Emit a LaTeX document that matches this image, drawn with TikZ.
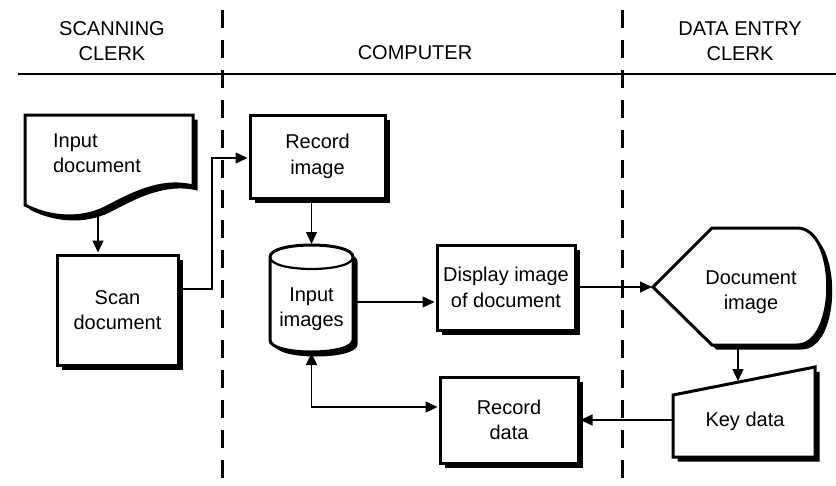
\documentclass[tikz,border=0pt]{standalone}
\usepackage{fontspec}
\setmainfont{Liberation Sans}
\usetikzlibrary{arrows.meta,calc}
\begin{document}
\begin{tikzpicture}[x=1pt,y=-1pt,
  txt/.style={font=\fontsize{20}{25.5}\selectfont, align=center, inner sep=0pt},
  shp/.style={draw=black, fill=white, line width=3pt, line join=miter,
    preaction={fill=black, transform canvas={xshift=4.5pt,yshift=-4.5pt}}},
  box/.style={shp, rectangle, inner sep=0pt, font=\fontsize{20}{25.5}\selectfont, align=center},
  arr/.style={line width=1.4pt, -{Triangle[length=12pt,width=11pt]}, shorten >=1pt},
  darr/.style={line width=1.4pt, {Triangle[length=12pt,width=11pt]}-{Triangle[length=12pt,width=11pt]}, shorten >=1pt, shorten <=1pt},
  lane/.style={line width=3pt, dash pattern=on 18pt off 12pt}
]
\useasboundingbox (0,0) rectangle (836,485);

% swimlane separators
\draw[line width=2.5pt] (18,74) -- (836,74);
\draw[lane] (222,10) -- (222,485);
\draw[lane] (622,10) -- (622,485);

% headers
\node[txt] (h1) at (112,41) {SCANNING\\CLERK};
\node[txt] (h2) at (415,53) {COMPUTER};
\node[txt] (h3) at (740,41) {DATA ENTRY\\CLERK};

% Input document (document shape)
\path[shp] (25,115) -- (193,115) -- (193,186)
  .. controls (160,178) and (130,195) .. (105,208)
  .. controls (80,220) and (50,218) .. (25,205) -- cycle;
\node[txt, align=left] (indoc) at (97,153) {Input\\document};
\coordinate (indocB) at (98,211);

% Scan document
\node[box, minimum width=121pt, minimum height=110pt] (scan) at (117.5,310) {Scan\\document};

% Record image
\node[box, minimum width=135pt, minimum height=83pt] (recimg) at (317.5,156.5) {Record\\image};

% Input images (cylinder)
\path[shp] (270,257) -- (270,340) .. controls (270,356) and (353,356) .. (353,340) -- (353,257)
  .. controls (353,241) and (270,241) .. (270,257) -- cycle;
\draw[line width=2.2pt] (270,257) .. controls (270,273) and (353,273) .. (353,257);
\node[txt] (inimg) at (311.5,309) {Input\\images};
\coordinate (inimgT) at (311.5,245);
\coordinate (inimgB) at (311.5,352);
\coordinate (inimgR) at (353,302);

% Display image of document
\node[box, minimum width=138pt, minimum height=85pt] (disp) at (506,287.5) {Display image\\of document};

% Document image (display shape)
\path[shp] (653,287) -- (712,228) -- (797,228) .. controls (838,228) and (838,345) .. (797,345)
  -- (712,345) -- cycle;
\node[txt] (docimg) at (751,292) {Document\\image};
\coordinate (docimgL) at (653,287);
\coordinate (docimgB) at (738,345);

% Key data (manual input)
\path[shp] (673,395) -- (815,367) -- (815,457) -- (673,457) -- cycle;
\node[txt] (key) at (745,421) {Key data};
\coordinate (keyT) at (738,382);
\coordinate (keyL) at (673,420);

% Record data
\node[box, minimum width=138pt, minimum height=86pt] (recdata) at (509,420) {Record\\data};

% connectors
\draw[arr] (indocB) -- (indocB |- scan.north);
\coordinate (bend) at (212,158);
\draw[arr] (scan.east |- 0,289) -| (bend) -- (bend -| recimg.west);
\draw[arr] (recimg.south -| inimgT) -- (inimgT);
\draw[arr] (inimgR) -- (inimgR -| disp.west);
\draw[arr] (disp.east |- docimgL) -- (docimgL);
\draw[arr] (docimgB) -- (keyT);
\draw[arr] (keyL) -- (keyL -| recdata.east);
\coordinate (corner) at (311.5,407);
\draw[darr] (inimgB) -- (corner) -- (corner -| recdata.west);
\end{tikzpicture}
\end{document}
